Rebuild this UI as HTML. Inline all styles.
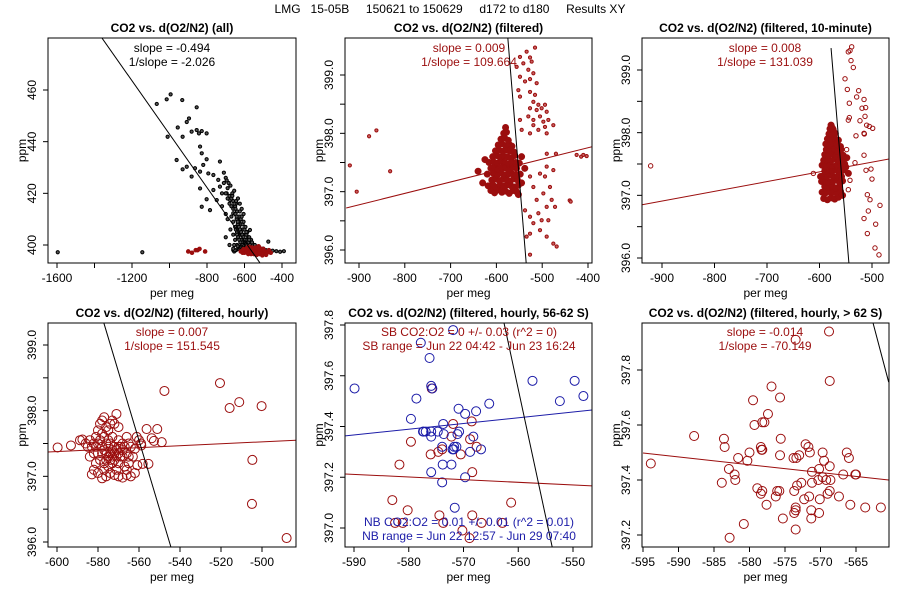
<!DOCTYPE html>
<html><head><meta charset="utf-8"><style>
html,body{margin:0;padding:0;background:#fff;}
svg{display:block;font-family:"Liberation Sans",sans-serif;}
</style></head><body>
<svg id="chart" width="900" height="600" viewBox="0 0 900 600">
<text x="450" y="13" text-anchor="middle" font-size="12" xml:space="preserve">LMG   15-05B     150621 to 150629     d172 to d180     Results XY</text>
</svg>
<script>
// ---------- Panel 1 (all) ----------
const p1BlackX=[-1068,-1015,-994,-932,-855,-1010,-956,-930,-908,-896,-882,-855,-828,-802,-843,-837,-828,-820,-802,-962,-930,-908,-882,-864,-837,-793,-766,-740,-731,-837,-802,-766,-748,-784,-828,-731,-695,-677,-660,-624,-571,-473,-1596,-1145,
-700,-690,-680,-670,-660,-650,-640,-630,-620,-610,-600,-590,-580,-570,-560,-690,-680,-670,-660,-650,-640,-630,-620,-610,-600,-590,-580,-670,-660,-650,-640,-630,-620,-610,-600,-640,-650,-660,-630,-710,-720,-700,-690,-675,-655,-645,-700,-685,-665,-645,-625,-615,-605,-595,-585,-575,-565,-555,-660,-680,-700,-620,-720,-710,-695,-675,-665,-655,-635,-615,-605,-625,-645,-590,-575,-560,-545,-530,-515,-500,-485,-470,-450,-430,-410,-390,
-655,-648,-642,-636,-632,-626,-622,-617,-612,-607,-603,-598,-594,-590,-586,-582,-578,-574,-652,-646,-640,-634,-628,-622,-616,-610,-604,-598,-592,-586,-582,-578,-660,-654,-648,-642,-636,-630,-624,-618,-612,-606,-600,-596,-592,-588,-636,-630,-624,-618,-612,-606,-600];
const p1BlackY=[454.6,456.4,458.3,456.1,453.3,441.9,445.5,441.9,447.6,449.0,443.9,444.5,444.1,443.2,443.2,438.1,435.5,431.0,433.2,432.9,429.3,430.3,426.5,429.7,428.4,427.7,427.1,425.2,432.3,421.9,417.7,421.3,417.4,413.5,414.8,422.6,420.0,417.4,412.3,411.0,405.8,401.3,397.2,397.2,
420,418,416,415,414,412,410,409,408,406,404,402,401,400,399.5,422,419,418,417,415,413,411,410,408,406,404,403,411,409,407,405,404,402,401,400,400,402,404,399,424,415,412,410,406,400,398,426,424,420,416,413,411,409,407,405,403,402,400,398,400,403,399,420,428,425,423,419,421,418,414,412,416,417,405,402,401,400,399,398.5,398.6,398,398,397.8,397.6,397.4,397.6,397.5,
412,410,408,407,405,404,402,401,400,399,399,398.5,398.5,398.2,398,398,398,398,406,404,403,402,401,400,400,399.5,399,399,398.5,399,399,398.6,416,414,411,409,407,406,405,404,403,402,401,400.5,400,399.5,398.5,398.8,399,398.6,398.4,398.3,398.2];
const p1RedX=[-600,-590,-580,-570,-560,-550,-540,-530,-520,-510,-500,-490,-480,-470,-560,-540,-520,-580,-550,-520,-500,-610,-620,-460,-900,-880,-860,-850,-840,-810,-575,-545,-515,-495,-565,-535,-595,-585,-555,-525,-505,-485,-605,-545];
const p1RedY=[397,398,397.5,398.5,397,397.5,398,397,398,397.5,397,397.5,397,398,399,399,399,396.5,396.5,396.5,398.5,397,397.5,397,397.5,397,398,398,398.5,397.5,399.2,398.8,398.5,396.8,396.5,396.2,398.2,399,398.2,399.5,396,396.2,398.4,397.2];
const p1LineX=[-1360,-517];
const p1LineY=[480.1,393.0];
const p1XTicks=[-1600,-1400,-1200,-1000,-800,-600,-400];
const p1XLabels=["-1600","","-1200","","-800","-600","-400"];
const p1YTicks=[400,420,440,460];
const p1YLabels=["400","420","440","460"];

// ---------- Panel 2 (filtered) ----------
const p2ClusterX=[-612,-604,-596,-588,-580,-572,-564,-556,-618,-608,-600,-592,-584,-576,-568,-560,-552,-610,-602,-594,-586,-578,-570,-562,-554,-620,-606,-598,-590,-582,-574,-566,-558,-548,-612,-604,-596,-588,-580,-572,-564,-556,-616,-606,-598,-590,-582,-574,-566,-558,-550,-608,-600,-592,-584,-576,-568,-560,-545,-602,-594,-586,-578,-570,-562,-596,-588,-580,-572,-566,-590,-582,-574,-584,-578,-580,-640,-630,-625,-545,-552,-538];
const p2ClusterY=[397.02,396.98,397.03,396.99,397.01,396.97,397.02,397.0,397.1,397.12,397.08,397.11,397.09,397.12,397.1,397.08,397.11,397.2,397.22,397.19,397.21,397.2,397.18,397.22,397.2,397.3,397.31,397.29,397.32,397.28,397.3,397.31,397.29,397.3,397.4,397.42,397.39,397.41,397.4,397.38,397.42,397.4,397.5,397.51,397.49,397.52,397.5,397.48,397.51,397.5,397.49,397.6,397.62,397.59,397.61,397.6,397.58,397.62,397.6,397.7,397.71,397.69,397.72,397.7,397.68,397.8,397.82,397.79,397.81,397.78,397.9,397.92,397.88,398.0,398.02,398.1,397.35,397.15,397.55,397.15,396.95,397.4];
const p2ScatterX=[-920,-905,-878,-862,-832,-440,-415,-470,-490,-515.7,-534.0,-548.5,-526.6,-541.2,-523.0,-555.8,-530.3,-519.3,-548.5,-526.6,-512.1,-537.5,-552.1,-526.6,-515.7,-548.5,-519.3,-508.4,-493.9,-526.6,-512.1,-501.2,-490.2,-530.3,-519.3,-504.8,-497.5,-475.7,-519.3,-508.4,-490.2,-526.6,-548.5,-544.8,-493.9,-486.6,
-537.5,-526.6,-519.3,-504.8,-490.2,-475.7,-468.4,-486.6,-512.1,-497.5,-483.0,-519.3,-526.6,-504.8,-475.7,-490.2,-493.9,-479.3,-472.0,-508.4,-526.6,-534.0,-490.2,-501.2,-526.6,-437.8,-424.8,-410.2,-402.9];
const p2ScatterY=[397.45,397.0,397.95,398.05,397.35,396.85,397.6,397.65,397.65,399.47,399.4,399.31,399.3,399.2,399.23,399.14,399.09,399.03,398.97,398.93,398.86,398.89,398.74,398.71,398.66,398.63,398.54,398.49,398.49,398.43,398.4,398.43,398.37,398.29,398.23,398.29,398.2,398.14,398.14,398.06,398.0,398.0,398.23,398.06,398.11,398.23,
396.68,396.57,396.46,396.34,396.23,396.11,396.06,396.51,396.86,396.97,397.08,397.08,397.26,397.31,397.37,397.43,397.26,396.86,396.74,396.63,396.28,396.23,396.74,396.51,395.92,396.83,397.63,397.63,397.61];
const p2LineX=[-928,-391];
const p2LineY=[396.72,397.77];
const p2BlackX=[-575,-535];
const p2BlackY=[399.63,395.78];
const p2XTicks=[-900,-800,-700,-600,-500,-400];
const p2XLabels=["-900","-800","-700","-600","-500","-400"];
const p2YTicks=[396,396.5,397,397.5,398,398.5,399];
const p2YLabels=["396.0","","397.0","","398.0","","399.0"];

// ---------- Panel 3 (10-minute) ----------
const p3ClusterX=[-592,-585,-578,-571,-564,-595,-588,-581,-574,-567,-560,-590,-583,-576,-569,-562,-596,-589,-582,-575,-568,-561,-556,-593,-586,-579,-572,-565,-558,-590,-583,-576,-569,-562,-555,-595,-588,-581,-574,-567,-560,-552,-592,-585,-578,-571,-564,-557,-590,-583,-576,-569,-562,-555,-548,-587,-580,-573,-566,-559,-588,-581,-574,-567,-560,-585,-578,-571,-564,-582,-576,-570,-580,-574,-578,-576,-598,-545,-550,-556];
const p3ClusterY=[396.95,396.93,396.96,396.94,396.97,397.05,397.04,397.06,397.05,397.03,397.06,397.14,397.13,397.15,397.12,397.14,397.22,397.23,397.21,397.22,397.24,397.2,397.23,397.31,397.3,397.32,397.29,397.31,397.3,397.39,397.4,397.38,397.41,397.39,397.4,397.48,397.47,397.49,397.46,397.48,397.47,397.5,397.56,397.57,397.55,397.58,397.56,397.55,397.65,397.64,397.66,397.63,397.65,397.64,397.6,397.73,397.72,397.74,397.71,397.73,397.82,397.8,397.83,397.81,397.78,397.9,397.89,397.91,397.88,397.98,397.97,397.99,398.06,398.05,398.12,398.08,397.3,397.35,397.45,397.0];
const p3ScatterX=[-538.7,-545.1,-541.9,-540.0,-535.6,-551.4,-547.0,-525.4,-529.2,-515.2,-519.0,-512.1,-543.2,-543.2,-545.1,-522.9,-513.3,-510.2,-505.1,-498.7,-515.2,-514.6,-530.5,-515.2,-511.4,-501.9,-500.0,-508.9,-503.8,-507.0,-484.8,-515.2,-493.0,-508.9,-494.3,-486.7,-921.6,-611.7,-548.3,-532.4,-541.9,-545.1];
const p3ScatterY=[399.37,399.29,399.31,399.15,399.04,398.86,398.69,398.67,398.57,398.53,398.39,398.4,398.47,398.24,398.2,398.19,398.26,398.12,398.1,398.07,397.99,397.98,397.95,397.64,397.4,397.42,397.26,397.01,396.93,396.75,396.84,396.63,396.54,396.39,396.16,396.05,397.47,397.35,397.73,397.52,397.24,397.09];
const p3LineX=[-938,-467];
const p3LineY=[396.85,397.58];
const p3BlackX=[-578,-544];
const p3BlackY=[399.35,395.92];
const p3XTicks=[-900,-800,-700,-600,-500];
const p3XLabels=["-900","-800","-700","-600","-500"];
const p3YTicks=[396,396.5,397,397.5,398,398.5,399];
const p3YLabels=["396.0","","397.0","","398.0","","399.0"];

// ---------- Panel 4 (hourly) ----------
const p4X=[-599.7,-593.2,-588.8,-587.6,-547.6,-556.3,-551.1,-558.9,-553.8,-552.7,-548.9,-520.5,-515.8,-511.1,-500.2,-504.7,-504.9,-488.0,-561.1,-558.2,-555.4,-560.8,
-584,-583,-582,-581,-580,-583,-582,-584,-581,-580,-579,-578,-577,-576,-575,-574,-573,-572,-571,-570,-578,-577,-579,-580,-578,-577,-576,-575,-574,-573,-572,-571,-570,-569,-568,-567,-566,-565,-564,-576,-575,-574,-573,-572,-571,-570,-569,-568,-567,-566,-565,-563,-562,-564,-566,-568,-570,-572,-574,-576,-578,-577,-575,-573,-571,-579,-578,-577,-576,-580,-581,-582,-585,-586,-575,-573,-570,-568,-566,-565,-574,-572,-570,-560,-559,-562];
const p4Y=[397.44,397.47,397.55,397.56,398.3,397.72,397.72,397.47,397.58,397.54,397.52,398.42,398.04,398.13,398.07,397.25,396.58,396.06,397.6,397.19,397.19,397.17,
397.55,397.45,397.35,397.2,397.05,397.03,397.1,397.3,397.6,397.7,397.8,397.85,397.9,397.75,397.7,397.8,397.85,397.8,397.95,397.75,397.65,397.6,397.55,397.5,397.45,397.4,397.35,397.3,397.35,397.4,397.45,397.4,397.35,397.3,397.4,397.45,397.35,397.3,397.45,397.5,397.45,397.5,397.3,397.25,397.3,397.2,397.45,397.3,397.15,397.1,397.2,397.3,397.05,397.0,397.02,396.98,397.0,397.02,397.05,397.0,396.97,397.1,397.15,397.2,397.1,397.25,397.35,397.2,397.25,397.35,397.45,397.5,397.45,397.5,397.55,397.6,397.55,397.5,397.6,397.5,397.25,397.35,397.45,397.55,397.5,397.42];
const p4LineX=[-604.4,-483.4];
const p4LineY=[397.37,397.55];
const p4BlackX=[-577.1,-544.4];
const p4BlackY=[399.33,395.92];
const p4XTicks=[-600,-580,-560,-540,-520,-500];
const p4XLabels=["-600","-580","-560","-540","-520","-500"];
const p4YTicks=[396,396.5,397,397.5,398,398.5,399];
const p4YLabels=["396.0","","397.0","","398.0","","399.0"];

// ---------- Panel 5 (56-62 S) ----------
const p5BlueX=[-589.9,-578.6,-579.6,-577.4,-575.9,-575.9,-575.9,-575.7,-576.2,-577.8,-571.9,-574.7,-573.7,-573.6,-573.9,-573.8,-573.9,-571.7,-571.8,-572.0,-571.3,-570.9,-570.8,-571.1,-572.2,-575.9,-569.7,-567.7,-568.2,-568.8,-566.8,-565.3,-569.7,-571.6,-557.4,-552.4,-549.7,-548.1,-576.9,-577.3];
const p5BlueY=[397.55,397.51,397.43,397.38,397.38,397.36,397.56,397.55,397.67,397.73,397.78,397.38,397.41,397.37,397.32,397.25,397.18,397.32,397.31,397.31,397.32,397.47,397.38,397.37,397.25,397.22,397.45,397.46,397.36,397.3,397.31,397.49,397.2,397.08,397.58,397.5,397.58,397.52,397.38,397.38];
const p5RedX=[-579.6,-581.7,-576.0,-574.6,-573.9,-572.2,-571.9,-570.5,-568.8,-568.5,-568.4,-567.6,-575.8,-583.0,-580.2,-574.4,-573.7,-570.2,-568.9,-568.4,-566.7,-562.9,-561.3,-582.5,-581.1];
const p5RedY=[397.34,397.25,397.29,397.3,397.31,397.36,397.41,397.29,397.35,397.42,397.22,397.32,397.55,397.11,397.07,397.05,397.02,396.99,396.96,397.05,397.02,397.02,397.1,397.02,397.02];
const p5BlueLineX=[-591.6,-546.5];
const p5BlueLineY=[397.363,397.465];
const p5RedLineX=[-591.6,-546.5];
const p5RedLineY=[397.213,397.166];
const p5BlackX=[-562.6,-553.8];
const p5BlackY=[397.808,396.925];
const p5XTicks=[-590,-580,-570,-560,-550];
const p5XLabels=["-590","-580","-570","-560","-550"];
const p5YTicks=[397.0,397.2,397.4,397.6,397.8];
const p5YLabels=["397.0","397.2","397.4","397.6","397.8"];

// ---------- Panel 6 (> 62 S) ----------
const p6X=[-593.9,-587.8,-583.6,-583.5,-582.9,-583.9,-582.1,-582.0,-581.6,-580.8,-582.8,-580.3,-580.0,-579.5,-579.3,-578.2,-577.9,-577.4,-578.4,-578.3,-578.2,-578.9,-578.4,-578.2,-577.6,-576.9,-575.7,-575.6,-575.7,-576.1,-575.8,-576.3,-575.3,-573.7,-573.8,-573.4,-573.0,-573.3,-572.7,-573.7,-573.5,-573.5,-573.5,-573.5,-572.3,-572.1,-571.7,-571.5,-571.6,-571.2,-571.3,-571.3,-571.2,-570.3,-570.2,-570.2,-570.1,-569.7,-569.5,-569.7,-569.2,-569.0,-568.7,-568.6,-568.7,-568.8,-568.7,-567.4,-566.8,-566.3,-566.0,-565.8,-565.0,-565.1,-563.7,-561.5];
const p6Y=[397.46,397.56,397.55,397.52,397.44,397.39,397.42,397.4,397.48,397.24,397.19,397.47,397.5,397.69,397.6,397.61,397.61,397.64,397.52,397.51,397.51,397.37,397.35,397.36,397.31,397.74,397.7,397.55,397.49,397.36,397.36,397.34,397.26,397.36,397.48,397.48,397.49,397.38,397.39,397.28,397.29,397.3,397.22,397.91,397.33,397.53,397.52,397.5,397.34,397.43,397.29,397.26,397.39,397.4,397.44,397.28,397.33,397.5,397.47,397.41,397.4,397.35,397.36,397.4,397.45,397.94,397.76,397.34,397.42,397.5,397.48,397.31,397.42,397.42,397.3,397.3];
const p6LineX=[-595,-560.4];
const p6LineY=[397.498,397.4];
const p6BlackX=[-562.6,-560.4];
const p6BlackY=[397.971,397.756];
const p6XTicks=[-595,-590,-585,-580,-575,-570,-565];
const p6XLabels=["-595","-590","-585","-580","-575","-570","-565"];
const p6YTicks=[397.2,397.4,397.6,397.8];
const p6YLabels=["397.2","397.4","397.6","397.8"];

const RED="#9b0e0e", BLUE="#1c1ca8";
const NS="http://www.w3.org/2000/svg";
const svg=document.getElementById("chart");
function el(tag,parent){const e=document.createElementNS(NS,tag);parent.appendChild(e);return e;}
function lin(d0,d1,r0,r1){return v=>r0+(v-d0)*(r1-r0)/(d1-d0);}

function panel(id,box,xd,xr,yd,yr,title,xt,xl,yt,yl){
  const g=el("g",svg);
  
  
  const sx=lin(xd[0],xd[1],xr[0],xr[1]), sy=lin(yd[0],yd[1],yr[0],yr[1]);
  const [L,T,R,B]=box;
  const cp=el("clipPath",g); cp.setAttribute("id","clip-"+id);
  const cr=el("rect",cp); cr.setAttribute("x",L);cr.setAttribute("y",T);cr.setAttribute("width",R-L);cr.setAttribute("height",B-T);
  const plot=el("g",g); plot.setAttribute("clip-path","url(#clip-"+id+")");
  
  
  const frame=el("rect",g);
  frame.setAttribute("x",L);frame.setAttribute("y",T);frame.setAttribute("width",R-L);frame.setAttribute("height",B-T);
  frame.setAttribute("fill","none");frame.setAttribute("stroke","#000");frame.setAttribute("stroke-width","1");
  
  
  const t=el("text",g); t.textContent=title;
  t.setAttribute("x",(L+R)/2);t.setAttribute("y",T-6);t.setAttribute("text-anchor","middle");
  t.setAttribute("font-size","12");t.setAttribute("font-weight","bold");
  
  
  xt.forEach((v,i)=>{
    const x=sx(v);
    const tk=el("line",g);tk.setAttribute("x1",x);tk.setAttribute("x2",x);tk.setAttribute("y1",B);tk.setAttribute("y2",B+5);tk.setAttribute("stroke","#000");
    
    
    if(xl[i]){const lb=el("text",g);lb.textContent=xl[i];lb.setAttribute("x",x);lb.setAttribute("y",B+19);lb.setAttribute("text-anchor","middle");lb.setAttribute("font-size","12");
      
      }
  });
  yt.forEach((v,i)=>{
    const y=sy(v);
    const tk=el("line",g);tk.setAttribute("x1",L-5);tk.setAttribute("x2",L);tk.setAttribute("y1",y);tk.setAttribute("y2",y);tk.setAttribute("stroke","#000");
    
    
    if(yl[i]){const lb=el("text",g);lb.textContent=yl[i];lb.setAttribute("transform","translate("+(L-12)+","+y+") rotate(-90)");lb.setAttribute("text-anchor","middle");lb.setAttribute("font-size","12");
      
      }
  });
  const xa=el("text",g);xa.textContent="per meg";xa.setAttribute("x",(L+R)/2);xa.setAttribute("y",B+34);xa.setAttribute("text-anchor","middle");xa.setAttribute("font-size","12");
  
  
  const ya=el("text",g);ya.textContent="ppm";ya.setAttribute("transform","translate("+(L-22)+","+((T+B)/2)+") rotate(-90)");ya.setAttribute("text-anchor","middle");ya.setAttribute("font-size","12");
  
  
  return {g,plot,sx,sy,L,T,R,B};
}
function pts(p,xs,ys,r,color,fill,name){
  xs.forEach((v,i)=>{
    const c=el("circle",p.plot);
    c.setAttribute("cx",p.sx(v));c.setAttribute("cy",p.sy(ys[i]));c.setAttribute("r",r);
    c.setAttribute("fill",fill);c.setAttribute("stroke",color);c.setAttribute("stroke-width","1");
    
    
  });
}
function line(p,xs,ys,color,name){
  const l=el("line",p.plot);
  l.setAttribute("x1",p.sx(xs[0]));l.setAttribute("y1",p.sy(ys[0]));
  l.setAttribute("x2",p.sx(xs[1]));l.setAttribute("y2",p.sy(ys[1]));
  l.setAttribute("stroke",color);l.setAttribute("stroke-width","1");
  
  
}
function note(p,x,y,txt,color){
  const t=el("text",p.g);t.textContent=txt;t.setAttribute("x",x);t.setAttribute("y",y);
  t.setAttribute("text-anchor","middle");t.setAttribute("font-size","12");t.setAttribute("fill",color);
  
  
}

// Panel 1
let p=panel("panel-all",[48,38,296,263],[-1600,-400],[57,282],[400,460],[245,90],"CO2 vs. d(O2/N2) (all)",p1XTicks,p1XLabels,p1YTicks,p1YLabels);
pts(p,p1BlackX,p1BlackY,1.6,"#000","#555","black-point");
pts(p,p1RedX,p1RedY,1.8,RED,RED,"red-point");
line(p,p1LineX,p1LineY,"#000","fit-line");
note(p,172,52,"slope = -0.494","#000");note(p,172,66,"1/slope = -2.026","#000");

// Panel 2
p=panel("panel-filtered",[345,38,592,263],[-900,-400],[359,588],[396,399],[250,75],"CO2 vs. d(O2/N2) (filtered)",p2XTicks,p2XLabels,p2YTicks,p2YLabels);
pts(p,p2ClusterX,p2ClusterY,3,RED,RED,"cluster-point");
pts(p,p2ScatterX,p2ScatterY,1.6,RED,"#c86060","scatter-point");
line(p,p2LineX,p2LineY,RED,"fit-line");
line(p,p2BlackX,p2BlackY,"#000","inverse-fit-line");
note(p,469,52,"slope = 0.009",RED);note(p,469,66,"1/slope = 109.664",RED);

// Panel 3
p=panel("panel-10-minute",[642,38,889,263],[-900,-500],[662,872],[396,399],[258,70],"CO2 vs. d(O2/N2) (filtered, 10-minute)",p3XTicks,p3XLabels,p3YTicks,p3YLabels);
pts(p,p3ClusterX,p3ClusterY,3,RED,RED,"cluster-point");
pts(p,p3ScatterX,p3ScatterY,2.2,RED,"none","scatter-point");
line(p,p3LineX,p3LineY,RED,"fit-line");
line(p,p3BlackX,p3BlackY,"#000","inverse-fit-line");
note(p,765,52,"slope = 0.008",RED);note(p,765,66,"1/slope = 131.039",RED);

// Panel 4
p=panel("panel-hourly",[48,323,296,547],[-600,-500],[57,262],[396,399],[542,345],"CO2 vs. d(O2/N2) (filtered, hourly)",p4XTicks,p4XLabels,p4YTicks,p4YLabels);
pts(p,p4X,p4Y,4.5,RED,"none","hourly-point");
line(p,p4LineX,p4LineY,RED,"fit-line");
line(p,p4BlackX,p4BlackY,"#000","inverse-fit-line");
note(p,172,336,"slope = 0.007",RED);note(p,172,350,"1/slope = 151.545",RED);

// Panel 5
p=panel("panel-56-62S",[345,323,592,547],[-590,-550],[354,573],[397,397.8],[528,325],"CO2 vs. d(O2/N2) (filtered, hourly, 56-62 S)",p5XTicks,p5XLabels,p5YTicks,p5YLabels);
pts(p,p5RedX,p5RedY,4.5,RED,"none","sb-point");
pts(p,p5BlueX,p5BlueY,4.5,BLUE,"none","nb-point");
line(p,p5BlueLineX,p5BlueLineY,BLUE,"nb-fit-line");
line(p,p5RedLineX,p5RedLineY,RED,"sb-fit-line");
line(p,p5BlackX,p5BlackY,"#000","inverse-fit-line");
note(p,469,336,"SB CO2:O2 = 0 +/- 0.03 (r^2 = 0)",RED);note(p,469,350,"SB range = Jun 22 04:42 - Jun 23 16:24",RED);
note(p,469,526,"NB CO2:O2 = 0.01 +/- 0.01 (r^2 = 0.01)",BLUE);note(p,469,540,"NB range = Jun 22 12:57 - Jun 29 07:40",BLUE);

// Panel 6
p=panel("panel-gt-62S",[642,323,889,547],[-595,-565],[643,856],[397.2,397.8],[535,370],"CO2 vs. d(O2/N2) (filtered, hourly, > 62 S)",p6XTicks,p6XLabels,p6YTicks,p6YLabels);
pts(p,p6X,p6Y,4.5,RED,"none","hourly-point");
line(p,p6LineX,p6LineY,RED,"fit-line");
line(p,p6BlackX,p6BlackY,"#000","inverse-fit-line");
note(p,765,336,"slope = -0.014",RED);note(p,765,350,"1/slope = -70.149",RED);
</script>
</body></html>
